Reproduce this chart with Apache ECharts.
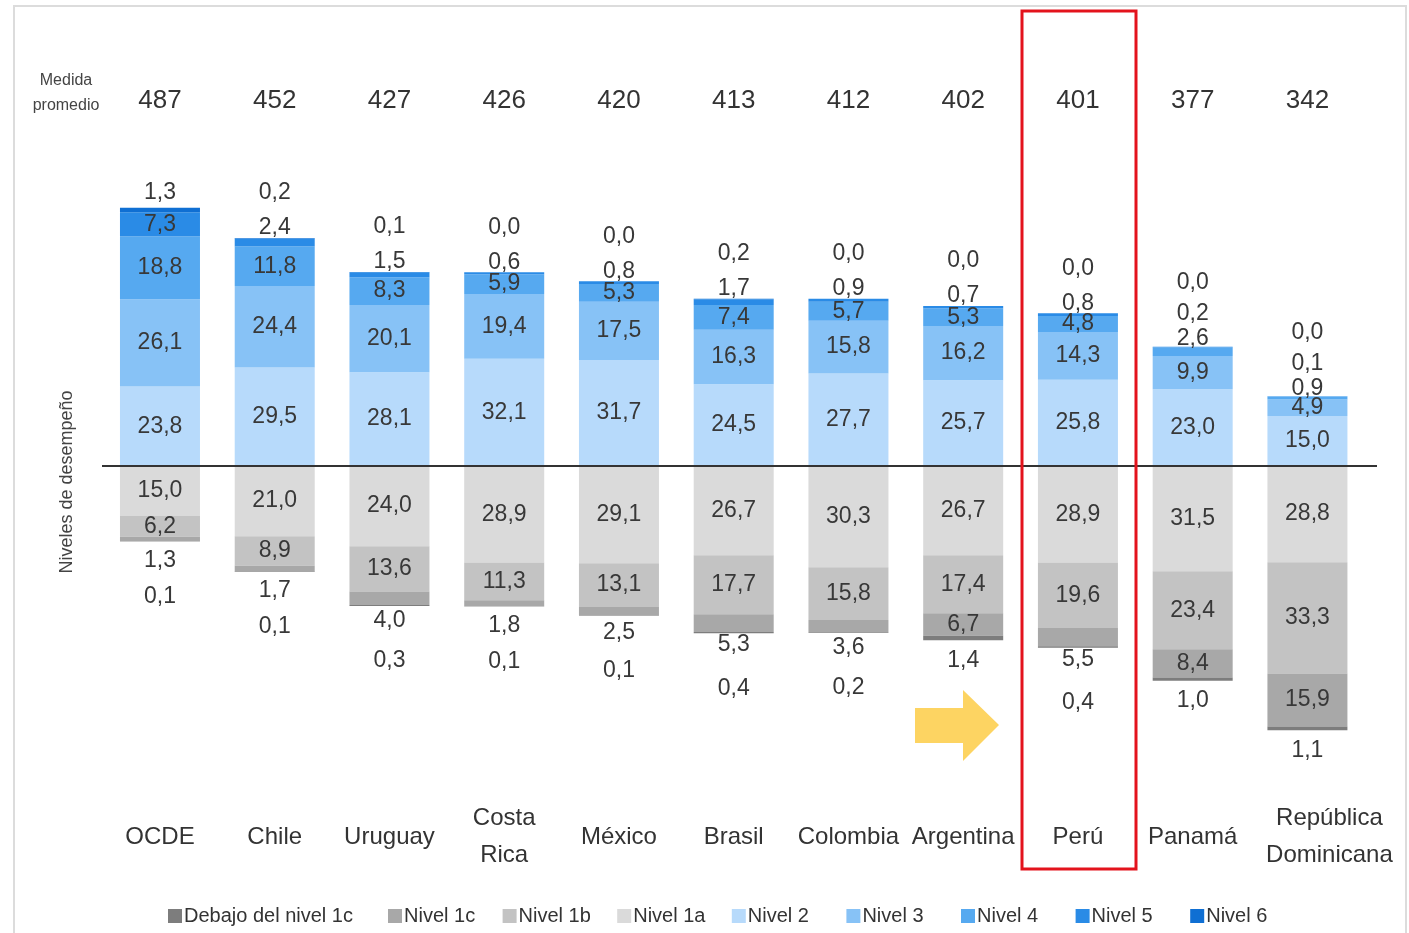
<!DOCTYPE html>
<html><head><meta charset="utf-8">
<script src="https://cdn.jsdelivr.net/npm/echarts@6/dist/echarts.min.js"></script>
<style>html,body{margin:0;padding:0;background:#fff}#c{width:1409px;height:933px}</style>
</head><body><div id="c"></div><script>
const countries = ['OCDE','Chile','Uruguay','Costa\nRica','México','Brasil','Colombia','Argentina','Perú','Panamá','República\nDominicana'];
const averages = ['487','452','427','426','420','413','412','402','401','377','342'];
const nivel6 = [1.3,0.2,0.1,0.0,0.0,0.2,0.0,0.0,0.0,0.0,0.0];
const nivel5 = [7.3,2.4,1.5,0.6,0.8,1.7,0.9,0.7,0.8,0.2,0.1];
const nivel4 = [18.8,11.8,8.3,5.9,5.3,7.4,5.7,5.3,4.8,2.6,0.9];
const nivel3 = [26.1,24.4,20.1,19.4,17.5,16.3,15.8,16.2,14.3,9.9,4.9];
const nivel2 = [23.8,29.5,28.1,32.1,31.7,24.5,27.7,25.7,25.8,23.0,15.0];
const nivel1a = [15.0,21.0,24.0,28.9,29.1,26.7,30.3,26.7,28.9,31.5,28.8];
const nivel1b = [6.2,8.9,13.6,11.3,13.1,17.7,15.8,17.4,19.6,23.4,33.3];
const nivel1c = [1.3,1.7,4.0,1.8,2.5,5.3,3.6,6.7,5.5,8.4,15.9];
const debajo1c = [0.1,0.1,0.3,0.1,0.1,0.4,0.2,1.4,0.4,1.0,1.1];
const legendNames = ['Debajo del nivel 1c','Nivel 1c','Nivel 1b','Nivel 1a','Nivel 2','Nivel 3','Nivel 4','Nivel 5','Nivel 6'];

const FONT = '"Liberation Sans", Arial, sans-serif';
const TXT = '#383838';
const GTOP = 198.8, GBOTTOM = 199.8, YMIN = -80, YMAX = 80;
const S = (933 - GTOP - GBOTTOM) / (YMAX - YMIN);
const fmt = p => Math.abs(p.value).toFixed(1).replace('.', ',');

const pos = [nivel2, nivel3, nivel4, nivel5, nivel6];
const neg = [nivel1a, nivel1b, nivel1c, debajo1c];
const topOffsets = {1: [-15], 2: [-10, -45], 3: [-8, -33, -64]};

function posData(si) {
  return pos[si].map((v, ci) => {
    const vals = pos.map(a => a[ci]);
    let first = 5;
    for (let j = 4; j >= 0; j--) { if (vals[j] < 4) first = j; else break; }
    if (si < first) return { value: v };
    const n = 5 - first, k = si - first;
    let above = 0;
    for (let j = si + 1; j < 5; j++) above += vals[j];
    const target = topOffsets[n][k];
    return { value: v, label: { offset: [0, target - (above + v / 2) * S] } };
  });
}
function negData(si) {
  return neg[si].map((v, ci) => {
    const c = nivel1c[ci];
    const cInside = c >= 6;
    if (si === 2) {
      if (cInside) return { value: -v };
      return { value: -v, label: { offset: [0, 22] } };
    }
    if (si === 3) {
      const t = cInside ? 20 : 55;
      return { value: -v, label: { offset: [0, t + (v / 2) * S] } };
    }
    return { value: -v };
  });
}

const colors = {
  'Nivel 6': '#0f6fd3', 'Nivel 5': '#2a8be6', 'Nivel 4': '#56a9f0', 'Nivel 3': '#87c2f6', 'Nivel 2': '#b7dafb',
  'Nivel 1a': '#dadada', 'Nivel 1b': '#c3c3c3', 'Nivel 1c': '#a8a8a8', 'Debajo del nivel 1c': '#7d7d7d'
};

function mkSeries(name, data, extra) {
  return Object.assign({
    name, type: 'bar', stack: 'total', barWidth: 80, data,
    itemStyle: { color: colors[name] },
    label: { show: true, position: 'inside', formatter: fmt, color: TXT, fontSize: 23, fontFamily: FONT },
    emphasis: { disabled: true }, animation: false
  }, extra || {});
}

const series = [
  mkSeries('Nivel 1a', negData(0)),
  mkSeries('Nivel 1b', negData(1)),
  mkSeries('Nivel 1c', negData(2)),
  mkSeries('Debajo del nivel 1c', negData(3)),
  mkSeries('Nivel 2', posData(0)),
  mkSeries('Nivel 3', posData(1)),
  mkSeries('Nivel 4', posData(2)),
  mkSeries('Nivel 5', posData(3)),
  mkSeries('Nivel 6', posData(4))
];

// one legend per entry, laid out at a fixed pitch like the original
const legends = legendNames.map((n, i) => ({
  left: i === 0 ? 168 : 388 + (i - 1) * 114.6, top: 906, padding: 0,
  itemWidth: 14, itemHeight: 14, icon: 'rect', selectedMode: false,
  textStyle: { fontSize: 20, color: '#333', fontFamily: FONT, padding: [0, 0, 0, -3] },
  data: [n]
}));

const lastCountry = countries[countries.length - 1];
const chart = echarts.init(document.getElementById('c'), null, { renderer: 'canvas' });
chart.setOption({
  animation: false,
  backgroundColor: '#fff',
  textStyle: { fontFamily: FONT },
  grid: { left: 102.6, right: 44.2, top: GTOP, bottom: GBOTTOM, containLabel: false },
  xAxis: [
    { type: 'category', data: countries, position: 'bottom',
      axisLine: { show: false }, axisTick: { show: false },
      axisLabel: { fontSize: 24, color: '#333', fontFamily: FONT, margin: 104, verticalAlign: 'middle', lineHeight: 37, interval: 0,
        formatter: v => v === lastCountry ? v.split('\n').map(s => '{r|' + s + '}').join('\n') : v,
        rich: { r: { fontSize: 24, color: '#333', fontFamily: FONT, lineHeight: 37, padding: [0, 0, 0, 44] } } } },
    { type: 'category', data: averages, position: 'top',
      axisLine: { show: false }, axisTick: { show: false },
      axisLabel: { fontSize: 26, color: '#333', fontFamily: FONT, margin: 98, verticalAlign: 'middle', interval: 0 } }
  ],
  yAxis: { type: 'value', min: YMIN, max: YMAX, show: false },
  legend: legends,
  graphic: [
    { type: 'rect', silent: true, z: -1, shape: { x: 14, y: 6, width: 1392, height: 960 },
      style: { fill: 'none', stroke: '#dcdcdc', lineWidth: 2 } },
    { type: 'text', silent: true, x: 66, y: 81, style: { text: 'Medida', font: '16px ' + FONT, fill: '#444', textAlign: 'center', textVerticalAlign: 'middle' } },
    { type: 'text', silent: true, x: 66, y: 106, style: { text: 'promedio', font: '16px ' + FONT, fill: '#444', textAlign: 'center', textVerticalAlign: 'middle' } },
    { type: 'text', silent: true, x: 67, y: 482, rotation: Math.PI / 2,
      style: { text: 'Niveles de desempeño', font: '18px ' + FONT, fill: '#444', textAlign: 'center', textVerticalAlign: 'middle' } },
    { type: 'rect', silent: true, z: 10, shape: { x: 1022, y: 11, width: 114, height: 858 },
      style: { fill: 'none', stroke: '#e3131c', lineWidth: 3 } },
    { type: 'polygon', silent: true, z: 10,
      shape: { points: [[915, 708], [963, 708], [963, 690], [999, 725], [963, 761], [963, 743], [915, 743]] },
      style: { fill: '#fdd462' } }
  ],
  series
});
const y0 = chart.convertToPixel({ yAxisIndex: 0 }, 0);
chart.setOption({
  series: [{}, {}, {}, {}, {
    markLine: { silent: true, symbol: 'none', label: { show: false }, animation: false,
      lineStyle: { color: '#333', width: 2, type: 'solid' },
      data: [[{ x: 102, y: y0 }, { x: 1377, y: y0 }]] }
  }]
});
</script></body></html>
